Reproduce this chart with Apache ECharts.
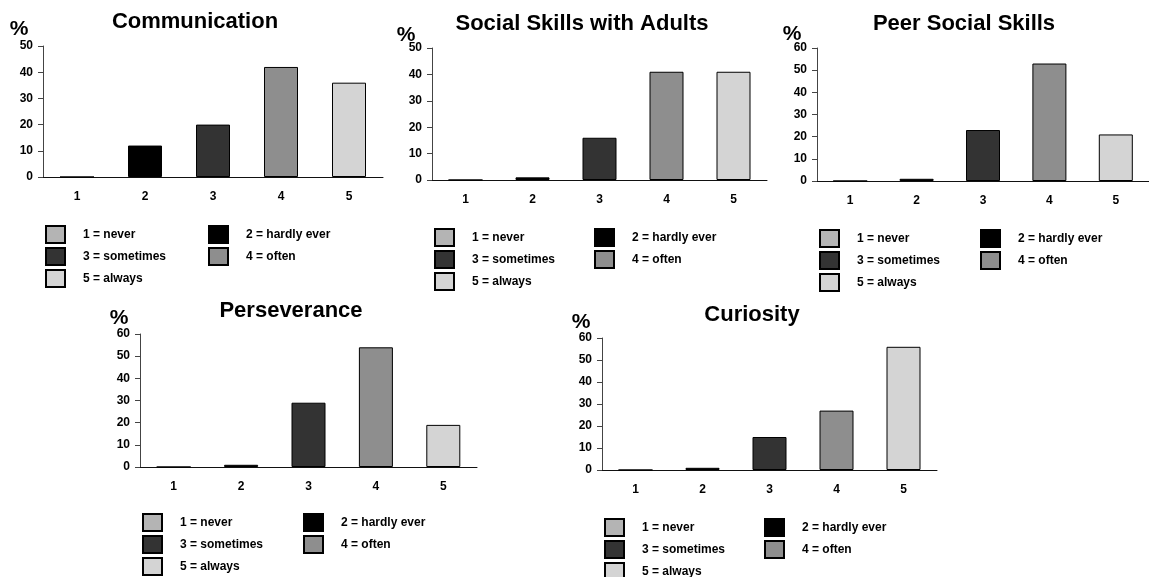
<!DOCTYPE html>
<html>
<head>
<meta charset="utf-8">
<script src="https://cdn.jsdelivr.net/npm/echarts@6/dist/echarts.min.js"></script>
<style>
html,body{margin:0;padding:0;background:#fff;}
#c{width:1149px;height:577px;}
</style>
</head>
<body>
<div id="c"></div>
<script>
// ---- data ----
const categories = ['1', '2', '3', '4', '5'];
const legendNames = ['1 = never', '2 = hardly ever', '3 = sometimes', '4 = often', '5 = always'];
const titles = ['Communication', 'Social Skills with Adults', 'Peer Social Skills', 'Perseverance', 'Curiosity'];
const communication = [0, 12, 20, 42, 36];
const socialAdults = [0, 1, 16, 41, 41];
const peerSocial = [0, 1, 23, 53, 21];
const perseverance = [0, 1, 29, 54, 19];
const curiosity = [0, 1, 15, 27, 56];
const yMax = [50, 50, 60, 60, 60];

// ---- layout / style ----
const charts = [communication, socialAdults, peerSocial, perseverance, curiosity];
const grids = [
  {left: 43, top: 46, width: 340, height: 131},
  {left: 432, top: 48, width: 335, height: 132},
  {left: 817, top: 48, width: 337, height: 133},
  {left: 140, top: 334, width: 337, height: 133},
  {left: 602, top: 338, width: 335, height: 132}
];
const titlePos = [[195, 22], [582, 24], [964, 24], [291, 311], [752, 315]];
const pctPos = [[19, 29], [406, 35], [792, 34], [119, 318], [581, 322]];
const legendPos = [
  [45, 225, 208], [434, 228, 594], [819, 229, 980], [142, 513, 303], [604, 518, 764]
];
const colors = ['#b4b4b4', '#000000', '#333333', '#8e8e8e', '#d4d4d4'];
const FONT = 'Liberation Sans, Arial, sans-serif';

const option = {
  backgroundColor: '#ffffff',
  animation: false,
  grid: grids,
  xAxis: grids.map((g, k) => ({
    type: 'category', gridIndex: k, data: categories,
    axisLine: {lineStyle: {color: '#111', width: 1}},
    axisTick: {alignWithLabel: true, length: 7, lineStyle: {color: '#111'}},
    axisLabel: {color: '#000', fontFamily: FONT, fontWeight: 'bold', fontSize: 12, margin: 14}
  })),
  yAxis: grids.map((g, k) => ({
    type: 'value', gridIndex: k, min: 0, max: yMax[k], interval: 10,
    splitLine: {show: false},
    axisLine: {show: true, lineStyle: {color: '#444', width: 1}},
    axisTick: {show: true, length: 5, lineStyle: {color: '#444'}},
    axisLabel: {color: '#000', fontFamily: FONT, fontWeight: 'bold', fontSize: 12, margin: 10}
  })),
  legend: [],
  series: [],
  graphic: []
};

charts.forEach((vals, k) => {
  legendNames.forEach((name, i) => {
    option.series.push({
      type: 'bar', name: name, xAxisIndex: k, yAxisIndex: k, stack: 's' + k,
      barWidth: 34,
      itemStyle: {color: colors[i], borderColor: '#000', borderWidth: 1},
      data: vals.map((v, j) => (j === i ? v : '-'))
    });
  });
  const lp = legendPos[k];
  const legBase = {
    orient: 'vertical', top: lp[1], height: 120, itemWidth: 19, itemHeight: 17, itemGap: 3,
    selectedMode: false, padding: 0, icon: 'rect',
    textStyle: {color: '#000', fontFamily: FONT, fontWeight: 'bold', fontSize: 12, padding: [0, 0, 0, 13]}
  };
  option.legend.push(Object.assign({}, legBase, {left: lp[0], data: [legendNames[0], legendNames[2], legendNames[4]]}));
  option.legend.push(Object.assign({}, legBase, {left: lp[2], data: [legendNames[1], legendNames[3]]}));
  option.graphic.push({
    type: 'text', x: titlePos[k][0], y: titlePos[k][1],
    style: {text: titles[k], fill: '#000', font: 'bold 22px ' + FONT, textAlign: 'center', textVerticalAlign: 'middle'}
  });
  option.graphic.push({
    type: 'text', x: pctPos[k][0], y: pctPos[k][1],
    style: {text: '%', fill: '#000', font: 'bold 21px ' + FONT, textAlign: 'center', textVerticalAlign: 'middle'}
  });
});

const chart = echarts.init(document.getElementById('c'), null, {renderer: 'canvas'});
chart.setOption(option);
</script>
</body>
</html>
